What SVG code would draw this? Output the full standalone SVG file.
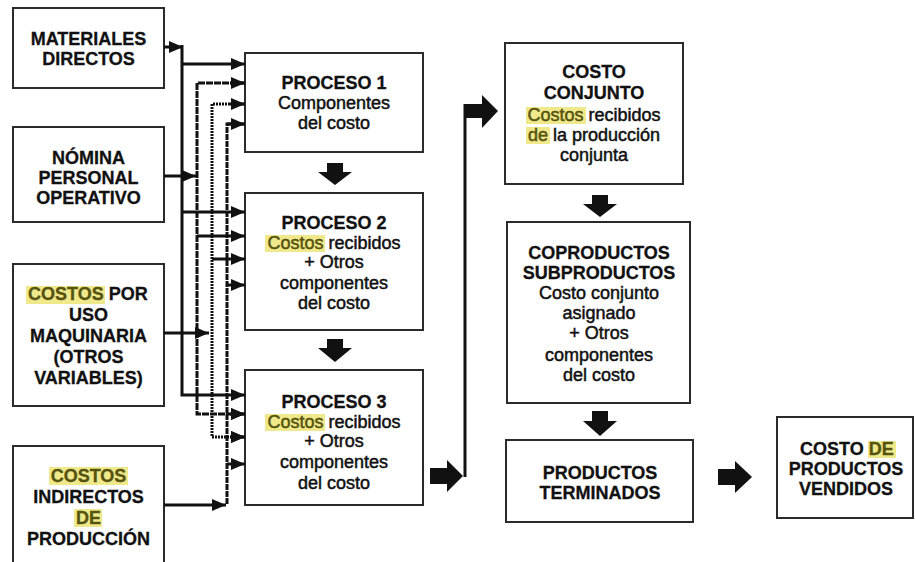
<svg xmlns="http://www.w3.org/2000/svg" width="915" height="562" viewBox="0 0 915 562">
<style>
.box{fill:#fff;stroke:#2b2b2b;stroke-width:2}
.t{font-family:"Liberation Sans",Arial,sans-serif;font-size:18px;fill:#111;text-anchor:middle;stroke:#111;stroke-width:0.5}
.s{text-anchor:start}
.b{font-weight:bold;stroke-width:0.3}
.hl{fill:#efe98c}
.hlt{fill:#56530f;stroke:#56530f}
.ln{fill:none;stroke:#111;stroke-width:3}
.d1{stroke-dasharray:7 1}
.d2{stroke-dasharray:2 1}
.d3{stroke-dasharray:6 1}
.blk{fill:#111}
</style>
<defs>
<marker id="ah" markerUnits="userSpaceOnUse" markerWidth="14" markerHeight="12" refX="14" refY="6" orient="auto">
<path d="M0,0 L14,6 L0,12 z" fill="#111"/>
</marker>
</defs>
<rect width="915" height="562" fill="#fff"/>

<g id="materiales">
<rect class="box" x="13" y="8" width="151" height="80"/>
<text class="t b" x="88.5" y="45">MATERIALES</text>
<text class="t b" x="88.5" y="65">DIRECTOS</text>
</g>
<g id="nomina">
<rect class="box" x="13" y="127" width="151" height="95"/>
<text class="t b" x="88.5" y="164">NÓMINA</text>
<text class="t b" x="88.5" y="184">PERSONAL</text>
<text class="t b" x="88.5" y="204">OPERATIVO</text>
</g>
<g id="maquinaria">
<rect class="box" x="13" y="264" width="151" height="142"/>
<rect class="hl" x="26" y="286" width="79" height="18"/>
<text class="t b s" x="28" y="300"><tspan class="hlt">COSTOS</tspan> POR</text>
<text class="t b" x="88.5" y="321">USO</text>
<text class="t b" x="88.5" y="342">MAQUINARIA</text>
<text class="t b" x="88.5" y="363">(OTROS</text>
<text class="t b" x="88.5" y="384">VARIABLES)</text>
</g>
<g id="indirectos">
<rect class="box" x="13" y="446" width="151" height="130"/>
<rect class="hl" x="49" y="467" width="79" height="18"/>
<text class="t b" x="88.5" y="482"><tspan class="hlt">COSTOS</tspan></text>
<text class="t b" x="88.5" y="503">INDIRECTOS</text>
<rect class="hl" x="74" y="509" width="28" height="18"/>
<text class="t b" x="88.5" y="524"><tspan class="hlt">DE</tspan></text>
<text class="t b" x="88.5" y="545">PRODUCCIÓN</text>
</g>

<g id="proceso1">
<rect class="box" x="245" y="53" width="178" height="99"/>
<text class="t b" x="334" y="89">PROCESO 1</text>
<text class="t" x="334" y="109">Componentes</text>
<text class="t" x="334" y="129">del costo</text>
</g>
<g id="proceso2">
<rect class="box" x="245" y="193" width="178" height="137"/>
<text class="t b" x="334" y="229">PROCESO 2</text>
<rect class="hl" x="265" y="235" width="60" height="17"/>
<text class="t s" x="267.5" y="249"><tspan class="hlt">Costos</tspan> recibidos</text>
<text class="t" x="334" y="268">+ Otros</text>
<text class="t" x="334" y="289">componentes</text>
<text class="t" x="334" y="309">del costo</text>
</g>
<g id="proceso3">
<rect class="box" x="245" y="370" width="178" height="135"/>
<text class="t b" x="334" y="408">PROCESO 3</text>
<rect class="hl" x="265" y="414" width="60" height="17"/>
<text class="t s" x="267.5" y="428"><tspan class="hlt">Costos</tspan> recibidos</text>
<text class="t" x="334" y="447">+ Otros</text>
<text class="t" x="334" y="468">componentes</text>
<text class="t" x="334" y="489">del costo</text>
</g>

<g id="costo-conjunto">
<rect class="box" x="505" y="43" width="178" height="141"/>
<text class="t b" x="594" y="78">COSTO</text>
<text class="t b" x="594" y="99">CONJUNTO</text>
<rect class="hl" x="526" y="107" width="60" height="17"/>
<text class="t s" x="527.5" y="121"><tspan class="hlt">Costos</tspan> recibidos</text>
<rect class="hl" x="526" y="127" width="24" height="17"/>
<text class="t s" x="528" y="141"><tspan class="hlt">de</tspan> la producción</text>
<text class="t" x="594" y="161">conjunta</text>
</g>
<g id="coproductos">
<rect class="box" x="507" y="222" width="183" height="181"/>
<text class="t b" x="599" y="259">COPRODUCTOS</text>
<text class="t b" x="599" y="279">SUBPRODUCTOS</text>
<text class="t" x="599" y="299">Costo conjunto</text>
<text class="t" x="599" y="319">asignado</text>
<text class="t" x="599" y="339">+ Otros</text>
<text class="t" x="599" y="361">componentes</text>
<text class="t" x="599" y="381">del costo</text>
</g>
<g id="terminados">
<rect class="box" x="506" y="440" width="187" height="82"/>
<text class="t b" x="600" y="479">PRODUCTOS</text>
<text class="t b" x="600" y="499">TERMINADOS</text>
</g>
<g id="vendidos">
<rect class="box" x="777" y="417" width="136" height="101"/>
<rect class="hl" x="868" y="441" width="28" height="17"/>
<text class="t b s" x="800" y="455">COSTO <tspan class="hlt">DE</tspan></text>
<text class="t b" x="846" y="475">PRODUCTOS</text>
<text class="t b" x="846" y="495">VENDIDOS</text>
</g>

<g id="connectors">
<line class="ln" x1="164" y1="47" x2="183" y2="47" marker-end="url(#ah)"/>
<line class="ln" x1="164" y1="176" x2="196" y2="176" marker-end="url(#ah)"/>
<line class="ln" x1="164" y1="333" x2="209" y2="333" marker-end="url(#ah)"/>
<line class="ln" x1="164" y1="505" x2="226" y2="505" marker-end="url(#ah)"/>
<path class="ln" d="M182,45 V395 H245" marker-end="url(#ah)"/>
<line class="ln" x1="182" y1="64" x2="245" y2="64" marker-end="url(#ah)"/>
<line class="ln" x1="182" y1="212" x2="245" y2="212" marker-end="url(#ah)"/>
<path class="ln d1" d="M245,83 H197 V414 H245" marker-end="url(#ah)"/>
<line class="ln" x1="197" y1="236" x2="245" y2="236" marker-end="url(#ah)"/>
<path class="ln d2" d="M245,104 H212 V437 H245" marker-end="url(#ah)"/>
<line class="ln" x1="212" y1="259" x2="245" y2="259" marker-end="url(#ah)"/>
<path class="ln d3" d="M245,124 H227 V505"/>
<line class="ln" x1="227" y1="124" x2="245" y2="124" marker-end="url(#ah)"/>
<line class="ln" x1="227" y1="285" x2="245" y2="285" marker-end="url(#ah)"/>
<line class="ln" x1="227" y1="464" x2="245" y2="464" marker-end="url(#ah)"/>
<line class="ln" x1="230" y1="83" x2="245" y2="83" marker-end="url(#ah)"/>
<line class="ln" x1="230" y1="104" x2="245" y2="104" marker-end="url(#ah)"/>
<line class="ln" x1="230" y1="414" x2="245" y2="414" marker-end="url(#ah)"/>
<line class="ln" x1="230" y1="437" x2="245" y2="437" marker-end="url(#ah)"/>
<polygon class="blk" points="327,163 343,163 343,172 352,172 335,185 318,172 327,172"/>
<polygon class="blk" points="327,339 343,339 343,348 352,348 335,362 318,348 327,348"/>
<polygon class="blk" points="592,195 608,195 608,204 617,204 600,217 583,204 592,204"/>
<polygon class="blk" points="592,411 608,411 608,421 617,421 600,436 583,421 592,421"/>
<polygon class="blk" points="430,468 447,468 447,460 463,476 447,492 447,484 430,484"/>
<polygon class="blk" points="718,469 735,469 735,461 752,477 735,493 735,485 718,485"/>
<line class="ln" x1="465" y1="477" x2="465" y2="104"/>
<polygon class="blk" points="464,104 482,104 482,95 498,111 482,128 482,118 464,118"/>
</g>
</svg>
